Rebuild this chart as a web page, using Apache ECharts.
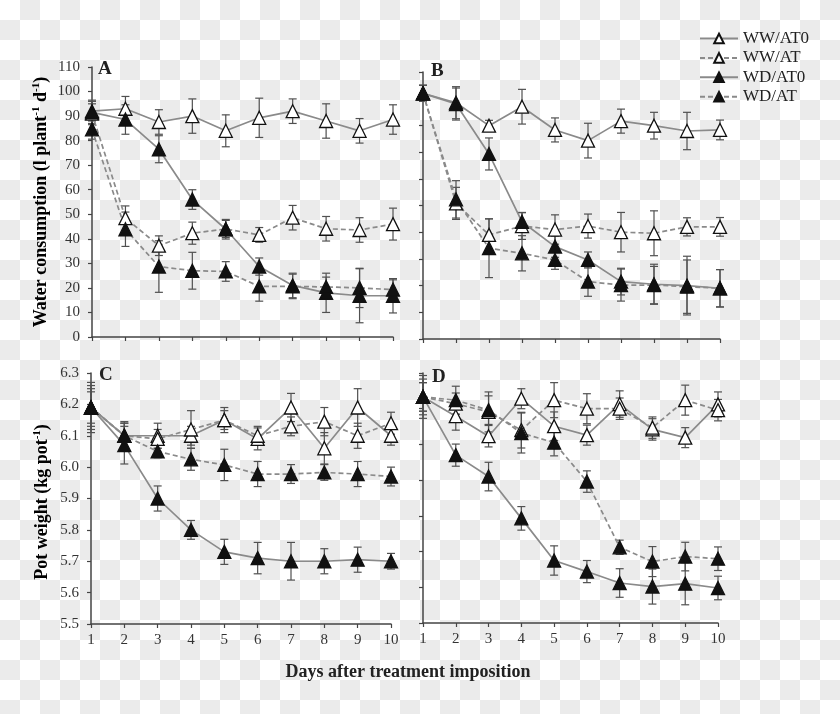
<!DOCTYPE html>
<html><head><meta charset="utf-8">
<script src="https://cdn.jsdelivr.net/npm/echarts@6/dist/echarts.min.js"></script>
<style>
html,body{margin:0;padding:0;}
#chart{width:840px;height:714px;background-color:#fff;background-image:repeating-conic-gradient(#ebebeb 0 25%, #ffffff 0 50%);background-size:40px 40px;}
</style></head><body><div id="chart"></div>
<script>
// ---------- data ----------
const days = [1, 2, 3, 4, 5, 6, 7, 8, 9, 10];
const seriesNames = ['WW/AT0', 'WW/AT', 'WD/AT0', 'WD/AT'];

// Panel A: water consumption (l plant-1 d-1)
const wcA_WWAT0 = [92, 93, 87.6, 90, 84, 89.3, 92, 88, 84, 88.6];
const eA_WWAT0  = [4, 5, 5, 7, 6.5, 8, 5, 7, 5, 6];
const wcA_WWAT  = [91, 48.4, 37.2, 42.3, 44, 41.6, 48.6, 44.1, 43.6, 46];
const eA_WWAT   = [4, 5, 4, 4.5, 3.5, 3, 5, 5, 5, 6.5];
const wcA_WDAT0 = [91.5, 88.6, 76.5, 56, 43.9, 28.7, 21, 18, 16.8, 16.8];
const eA_WDAT0  = [5, 6, 5.5, 4, 4, 3.5, 5, 8, 11, 7];
const wcA_WDAT  = [84.6, 43.9, 28.7, 27, 26.7, 20.6, 20.6, 20.4, 20, 19.3];
const eA_WDAT   = [4, 7, 10.5, 7.5, 4, 6, 5, 4, 8, 4];

// Panel B: water consumption
const wcB_WWAT0 = [92, 88.5, 79.9, 87, 78.3, 74.3, 81.6, 79.9, 77.9, 78.3];
const eB_WWAT0  = [3, 6, 2, 6.5, 4.5, 6.5, 4.5, 5, 7, 3.7];
const wcB_WWAT  = [92, 50.8, 39, 42.3, 41, 42.3, 40, 39.6, 42, 42];
const eB_WWAT   = [3, 6, 6, 5, 5.5, 4.5, 7.4, 8.4, 3.4, 3.5];
const wcB_WDAT0 = [92, 88, 69.3, 43.9, 34.6, 29.6, 21.5, 20.5, 20, 19];
const eB_WDAT0  = [3, 6, 6, 3.5, 4, 3, 5, 7.5, 11, 7];
const wcB_WDAT  = [92, 52.3, 34, 32.1, 29.6, 21.5, 20.2, 20.2, 19.6, 19];
const eB_WDAT   = [3, 7, 11, 6.6, 3.5, 5.5, 6, 7, 10, 7];

// Panel C: pot weight (kg pot-1)
const pwC_WWAT0 = [6.19, 6.10, 6.10, 6.10, 6.15, 6.09, 6.19, 6.06, 6.19, 6.10];
const eC_WWAT0  = [0.06, 0.04, 0.04, 0.03, 0.04, 0.035, 0.045, 0.05, 0.06, 0.03];
const pwC_WWAT  = [6.19, 6.10, 6.09, 6.12, 6.15, 6.10, 6.13, 6.145, 6.10, 6.14];
const eC_WWAT   = [0.05, 0.04, 0.03, 0.06, 0.03, 0.03, 0.03, 0.045, 0.04, 0.035];
const pwC_WDAT0 = [6.19, 6.07, 5.90, 5.80, 5.73, 5.71, 5.70, 5.70, 5.705, 5.70];
const eC_WDAT0  = [0.08, 0.06, 0.04, 0.03, 0.04, 0.05, 0.06, 0.04, 0.04, 0.025];
const pwC_WDAT  = [6.19, 6.10, 6.05, 6.025, 6.007, 5.978, 5.978, 5.983, 5.978, 5.97];
const eC_WDAT   = [0.07, 0.045, 0.02, 0.035, 0.05, 0.04, 0.03, 0.025, 0.04, 0.03];

// Panel D: pot weight
const pwD_WWAT0 = [6.233, 6.179, 6.123, 6.228, 6.151, 6.126, 6.213, 6.142, 6.119, 6.212];
const eD_WWAT0  = [0.04, 0.039, 0.03, 0.028, 0.04, 0.028, 0.037, 0.03, 0.028, 0.035];
const pwD_WWAT  = [6.233, 6.214, 6.191, 6.14, 6.224, 6.2, 6.2, 6.147, 6.224, 6.196];
const eD_WWAT   = [0.04, 0.03, 0.056, 0.05, 0.049, 0.042, 0.03, 0.03, 0.042, 0.03];
const pwD_WDAT0 = [6.233, 6.07, 6.01, 5.893, 5.775, 5.744, 5.712, 5.702, 5.71, 5.698];
const eD_WDAT0  = [0.05, 0.031, 0.04, 0.033, 0.041, 0.031, 0.04, 0.049, 0.059, 0.033];
const pwD_WDAT  = [6.233, 6.224, 6.196, 6.132, 6.105, 5.996, 5.812, 5.772, 5.786, 5.78];
const eD_WDAT   = [0.06, 0.039, 0.04, 0.056, 0.037, 0.03, 0.02, 0.042, 0.04, 0.033];

// axis ranges (tick labels)
const yTicksA = [0, 110, 10];
const yTicksB = [0, 100, 10];
const yTicksC = [5.5, 6.3, 0.1];
const yTicksD = [5.6, 6.3, 0.1];
const xTicks  = [1, 10, 1];

const panelLetters = ['A', 'B', 'C', 'D'];
const yTitleTop = 'Water consumption (l plant{s|-1} d{s|-1})';
const yTitleBottom = 'Pot weight (kg pot{s|-1})';
const xTitle = 'Days after treatment imposition';

// ---------- build ----------
const FONT = '"Liberation Serif", "Times New Roman", serif';
const LINE = '#8a8a8a';
const INK = '#111';
const AXIS = '#444';

const panels = [
  {vals: [wcA_WWAT0, wcA_WWAT, wcA_WDAT0, wcA_WDAT], errs: [eA_WWAT0, eA_WWAT, eA_WDAT0, eA_WDAT], y: yTicksA, ylab: true, xlab: false},
  {vals: [wcB_WWAT0, wcB_WWAT, wcB_WDAT0, wcB_WDAT], errs: [eB_WWAT0, eB_WWAT, eB_WDAT0, eB_WDAT], y: yTicksB, ylab: false, xlab: false},
  {vals: [pwC_WWAT0, pwC_WWAT, pwC_WDAT0, pwC_WDAT], errs: [eC_WWAT0, eC_WWAT, eC_WDAT0, eC_WDAT], y: yTicksC, ylab: true, xlab: true},
  {vals: [pwD_WWAT0, pwD_WWAT, pwD_WDAT0, pwD_WDAT], errs: [eD_WWAT0, eD_WWAT, eD_WDAT0, eD_WDAT], y: yTicksD, ylab: false, xlab: true}
];
const grids = [
  {left: 92, top: 67, width: 301, height: 270},
  {left: 423, top: 72, width: 297, height: 267},
  {left: 91, top: 373, width: 300, height: 251},
  {left: 423, top: 373, width: 295, height: 250}
];
const openFlags = [true, true, false, false];
const dashFlags = [false, true, false, true];

const labelStyle = {fontFamily: FONT, fontSize: 15, color: '#333'};

const xAxes = [], yAxes = [], series = [];
function errRender(params, api) {
  const x = api.value(0);
  const lo = api.coord([x, api.value(1)]);
  const hi = api.coord([x, api.value(2)]);
  const w = 4;
  const st = {stroke: '#505050', lineWidth: 1.2};
  return {type: 'group', children: [
    {type: 'line', shape: {x1: lo[0], y1: lo[1], x2: hi[0], y2: hi[1]}, style: st},
    {type: 'line', shape: {x1: lo[0] - w, y1: lo[1], x2: lo[0] + w, y2: lo[1]}, style: st},
    {type: 'line', shape: {x1: hi[0] - w, y1: hi[1], x2: hi[0] + w, y2: hi[1]}, style: st}
  ]};
}
panels.forEach((p, gi) => {
  xAxes.push({
    type: 'value', gridIndex: gi, min: xTicks[0], max: xTicks[1], interval: xTicks[2],
    axisLine: {show: true, lineStyle: {color: AXIS, width: 1.5}},
    axisTick: {show: true, length: 4, lineStyle: {color: AXIS, width: 1.2}},
    axisLabel: Object.assign({show: p.xlab, margin: 9}, labelStyle),
    splitLine: {show: false}
  });
  yAxes.push({
    type: 'value', gridIndex: gi, min: p.y[0], max: p.y[1], interval: p.y[2],
    axisLine: {show: true, lineStyle: {color: AXIS, width: 1.5}},
    axisTick: {show: true, length: 4, lineStyle: {color: AXIS, width: 1.2}},
    axisLabel: Object.assign({show: p.ylab, margin: 12,
      formatter: v => (p.y[2] < 1 ? v.toFixed(1) : String(Math.round(v)))}, labelStyle),
    splitLine: {show: false}
  });
  p.vals.forEach((vals, si) => {
    series.push({
      type: 'custom', xAxisIndex: gi, yAxisIndex: gi, silent: true, z: 2,
      data: days.map((d, i) => [d, vals[i] - p.errs[si][i], vals[i] + p.errs[si][i]]),
      encode: {x: 0, y: [1, 2]}, renderItem: errRender
    });
  });
  p.vals.forEach((vals, si) => {
    series.push({
      type: 'line', name: seriesNames[si], xAxisIndex: gi, yAxisIndex: gi, z: 3,
      data: days.map((d, i) => [d, vals[i]]),
      symbol: 'triangle', symbolSize: 13, showAllSymbol: true,
      lineStyle: {color: LINE, width: 1.7, type: dashFlags[si] ? [5, 3] : 'solid'},
      itemStyle: {color: openFlags[si] ? '#fff' : INK, borderColor: INK, borderWidth: 1.3},
      emphasis: {disabled: true}
    });
  });
});

const letterPos = [[98, 69], [431, 71], [99, 375], [432, 377]];
const graphics = letterPos.map((pos, i) => ({
  type: 'text', x: pos[0], y: pos[1],
  style: {text: panelLetters[i], fontFamily: FONT, fontSize: 19, fontWeight: 'bold', fill: '#222',
          textAlign: 'left', textVerticalAlign: 'middle'}
}));
const richTitle = {
  a: {fontFamily: FONT, fontSize: 18, fontWeight: 'bold', color: '#222', lineHeight: 20},
  s: {fontFamily: FONT, fontSize: 11, fontWeight: 'bold', color: '#222', verticalAlign: 'top', lineHeight: 13}
};
function richWrap(t) {
  return t.split(/(\{s\|[^}]*\})/).filter(x => x.length).map(x => x.startsWith('{s|') ? x : '{a|' + x + '}').join('');
}
graphics.push({type: 'text', x: 41, y: 202, rotation: Math.PI / 2,
  style: {text: richWrap(yTitleTop), rich: richTitle, textAlign: 'center', textVerticalAlign: 'middle'}});
graphics.push({type: 'text', x: 42, y: 502, rotation: Math.PI / 2,
  style: {text: richWrap(yTitleBottom), rich: richTitle, textAlign: 'center', textVerticalAlign: 'middle'}});
graphics.push({type: 'text', x: 408, y: 672,
  style: {text: xTitle, fontFamily: FONT, fontSize: 18, fontWeight: 'bold', fill: '#222',
          textAlign: 'center', textVerticalAlign: 'middle'}});

const chart = echarts.init(document.getElementById('chart'), null, {renderer: 'canvas'});
chart.setOption({
  backgroundColor: 'transparent',
  animation: false,
  grid: grids,
  xAxis: xAxes,
  yAxis: yAxes,
  legend: {
    data: seriesNames, orient: 'vertical', left: 699, top: 30, padding: 0,
    itemWidth: 38, itemHeight: 12, itemGap: 2.4,
    textStyle: {fontFamily: FONT, fontSize: 17, color: '#222'},
    selectedMode: false
  },
  graphic: graphics,
  series: series
});
</script></body></html>
